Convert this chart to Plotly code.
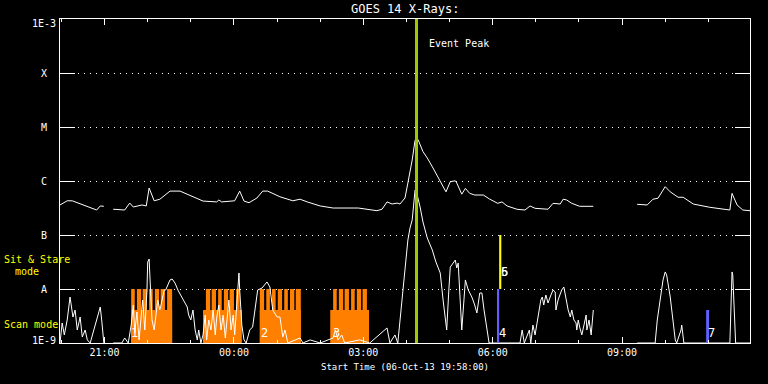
import datetime as dt
import math
import plotly.graph_objects as go

# ---------------- data ----------------
long_times = ["19:58","20:08","20:15","20:26","20:49","20:54","20:59","21:05","21:12","21:28","21:35","21:40",
              "21:52","21:58","22:02","22:09","22:17","22:31","22:45","23:03","23:17","23:36","23:39","23:43",
              "00:01","00:08","00:14","00:21","00:32","00:40","00:47","01:04","01:22","01:32","01:42","02:00",
              "02:18","02:53","03:19","03:26","03:33","03:40","03:47","03:51","03:58","04:02","04:08","04:12",
              "04:16","04:23","04:29","04:37","04:47","04:55","05:01","05:08","05:10","05:17","05:22","05:28",
              "05:35","05:47","05:56","06:07","06:13","06:20","06:34","06:45","06:52","06:59","07:17","07:24",
              "07:34","07:38","07:43","07:50","08:01","08:20","08:50","09:21","09:35","09:43","09:50","10:00",
              "10:07","10:18","10:25","10:39","11:02","11:30","11:33","11:40","11:48","11:58"]
long_flux = [3.6e-7,4.3e-7,4.3e-7,3.75e-7,2.9e-7,3.45e-7,3.4e-7,None,3.0e-7,2.9e-7,3.9e-7,3.3e-7,
             3.6e-7,3.45e-7,7.4e-7,4.3e-7,4.6e-7,6.5e-7,6.5e-7,5.05e-7,4.25e-7,4.1e-7,4.45e-7,4.1e-7,
             4.3e-7,6.5e-7,4.25e-7,3.96e-7,4.85e-7,6.5e-7,6.5e-7,5.1e-7,4.3e-7,4.6e-7,4.1e-7,3.45e-7,
             3.16e-7,3.16e-7,2.82e-7,3.0e-7,4.1e-7,3.75e-7,3.9e-7,3.75e-7,4.85e-7,9.2e-7,2.45e-6,5.7e-6,
             5.9e-6,3.5e-6,2.67e-6,1.74e-6,9.7e-7,6.3e-7,9.7e-7,1.01e-6,9.2e-7,5.7e-7,7.3e-7,5.9e-7,
             5.5e-7,5.5e-7,4.6e-7,3.86e-7,4.1e-7,3.45e-7,2.99e-7,2.9e-7,3.45e-7,3.12e-7,3.0e-7,3.86e-7,
             3.75e-7,4.6e-7,4.45e-7,3.86e-7,3.4e-7,3.4e-7,None,3.7e-7,3.6e-7,4.6e-7,4.8e-7,7.85e-7,
             6.3e-7,5.0e-7,5.0e-7,3.75e-7,3.26e-7,2.9e-7,5.9e-7,3.6e-7,2.9e-7,2.82e-7]

short_times = ["19:58","20:01","20:04","20:08","20:12","20:16","20:19","20:22","20:26","20:29","20:33","20:36",
               "20:40","20:49","20:54","20:56","20:59","21:05","21:12","21:24","21:28","21:33","21:37","21:40",
               "21:42","21:45","21:48","21:51","21:53","21:56","21:59","22:00","22:02","22:03","22:05","22:06",
               "22:09","22:12","22:14","22:17","22:20","22:23","22:25","22:28","22:31","22:34","22:38","22:42",
               "22:46","22:50","22:55","22:57","23:00","23:03","23:06","23:09","23:11","23:14","23:17","23:20",
               "23:22","23:25","23:28","23:31","23:34","23:36","23:39","23:42","23:45","23:48","23:50","23:53",
               "23:56","23:59","00:01","00:04","00:06","00:07","00:08","00:11","00:14","00:17","00:22","00:26",
               "00:33","00:39","00:46","00:50","00:54","01:00","01:04","01:08","01:11","01:15","01:32","01:36",
               "01:46","02:00","02:18","02:21","02:25","02:30","02:34","02:55","03:09","03:33","03:37","03:44",
               "03:48","03:55","03:58","04:02","04:05","04:08","04:12","04:15","04:19","04:23","04:29","04:36",
               "04:41","04:47","04:51","04:54","04:56","04:59","05:01","05:05","05:08","05:10","05:12","05:14",
               "05:17","05:20","05:22","05:26","05:31","05:35","05:38","05:42","05:45","05:48","05:52","05:55",
               "06:38","06:41","06:44","06:48","06:51","06:53","06:56","06:59","07:02","07:04","07:07","07:09",
               "07:11","07:14","07:17","07:21","07:24","07:27","07:28","07:31","07:34","07:36","07:39","07:42",
               "07:45","07:48","07:50","07:53","07:56","07:57","07:59","08:01","08:04","08:07","08:10","08:11",
               "08:14","08:17","08:20","08:50","09:21","09:46","09:49","09:53","09:57","10:00","10:02","10:07",
               "10:09","10:14","10:16","10:22","10:23","10:26","11:30","11:32","11:33","11:34","11:37","11:38",
               "11:58"]
short_flux = [1.0e-9,2.35e-9,1.41e-9,2.67e-9,7.11e-9,3.03e-9,4.08e-9,1.74e-9,3.03e-9,1.29e-9,1.74e-9,1.14e-9,
              1.0e-9,2.67e-9,4.64e-9,2.67e-9,1.0e-9,None,1.0e-9,1.0e-9,1.24e-9,1.0e-9,2.15e-9,5.05e-9,
              1.53e-9,3.75e-9,1.14e-9,2.67e-9,6.26e-9,1.74e-9,9.58e-9,3.16e-8,3.59e-8,1.82e-8,6.26e-9,2.67e-9,
              1.74e-9,4.08e-9,6.26e-9,4.08e-9,6.26e-9,9.58e-9,9.58e-9,1.19e-8,1.47e-8,1.53e-8,1.29e-8,9.58e-9,
              7.74e-9,6.26e-9,4.64e-9,3.30e-9,2.67e-9,4.08e-9,1.74e-9,1.14e-9,1.74e-9,1.0e-9,1.41e-9,3.30e-9,
              1.14e-9,2.67e-9,1.74e-9,4.08e-9,1.41e-9,2.90e-9,5.05e-9,1.74e-9,3.30e-9,1.24e-9,2.67e-9,6.26e-9,
              1.74e-9,3.30e-9,1.41e-9,5.05e-9,1.19e-8,1.98e-8,9.58e-9,2.15e-9,1.14e-9,1.0e-9,1.74e-9,1.98e-9,
              9.58e-9,1.04e-8,1.35e-8,1.09e-8,4.08e-9,3.03e-9,3.03e-9,1.29e-9,1.74e-9,1.0e-9,1.24e-9,1.0e-9,
              1.14e-9,1.0e-9,1.24e-9,1.74e-9,1.14e-9,1.41e-9,1.0e-9,1.14e-9,1.0e-9,1.90e-9,1.0e-9,1.41e-9,
              1.0e-9,8.43e-9,2.25e-8,8.08e-8,1.35e-7,1.90e-7,6.8e-7,5.5e-7,3.30e-7,1.74e-7,8.80e-8,5.27e-8,
              3.16e-8,1.98e-8,6.26e-9,2.67e-9,1.74e-9,9.58e-9,2.55e-8,3.03e-8,3.44e-8,2.45e-8,3.03e-8,9.58e-9,
              1.74e-9,6.26e-9,1.47e-8,9.58e-9,7.11e-9,5.05e-9,3.59e-9,8.43e-9,8.43e-9,4.08e-9,1.74e-9,1.0e-9,
              1.0e-9,1.74e-9,1.0e-9,1.41e-9,1.74e-9,1.0e-9,2.15e-9,1.41e-9,2.67e-9,4.08e-9,6.26e-9,7.11e-9,
              5.05e-9,7.74e-9,5.51e-9,7.74e-9,9.58e-9,8.80e-9,4.08e-9,6.26e-9,7.74e-9,9.58e-9,1.09e-8,6.26e-9,
              4.08e-9,3.03e-9,4.08e-9,2.67e-9,2.35e-9,1.74e-9,2.67e-9,1.98e-9,1.41e-9,2.15e-9,3.30e-9,1.74e-9,
              2.67e-9,1.41e-9,4.08e-9,None,1.0e-9,1.0e-9,2.67e-9,7.11e-9,1.47e-8,2.07e-8,1.82e-8,7.11e-9,
              4.08e-9,1.14e-9,1.0e-9,1.74e-9,2.15e-9,1.0e-9,1.0e-9,6.26e-9,2.07e-8,1.82e-8,1.74e-9,1.0e-9,
              1.0e-9]

# scan-mode blocks (orange): base blocks and teeth
scan_block_start = ["21:37", "23:17", "00:36", "02:14"]
scan_block_end = ["22:34", "00:11", "01:33", "03:08"]
scan_block_top = [4.1e-9, 4.1e-9, 4.1e-9, 4.1e-9]
scan_tooth_start = ["21:37","21:45","21:53","22:02","22:10","22:18","22:27",
                    "23:21","23:29","23:38","23:46","23:54","00:03",
                    "00:36","00:45","00:53","01:01","01:10","01:18","01:26",
                    "02:18","02:26","02:34","02:43","02:51","02:59"]
scan_tooth_end = ["21:42","21:51","21:59","22:07","22:16","22:24","22:34",
                  "23:27","23:35","23:43","23:52","00:00","00:08",
                  "00:42","00:50","00:58","01:07","01:15","01:24","01:33",
                  "02:23","02:32","02:40","02:48","02:57","03:05"]
scan_tooth_top = 1e-8

# observing-mode bars
blue_start = ["06:06", "10:57"]
blue_end = ["06:09", "11:01"]
blue_top = [1e-8, 4.1e-9]
yellow_start = ["06:09"]
yellow_end = ["06:12"]
yellow_low = [1e-8]
yellow_top = [1e-7]

event_numbers = ["1", "2", "3", "4", "5", "6", "7"]
event_num_times = ["21:42", "00:43", "02:22", "06:13", "06:17", "06:17", "11:04"]
event_num_flux = [1.53e-9, 1.53e-9, 1.53e-9, 1.53e-9, 2.07e-8, 2.07e-8, 1.53e-9]

peak_time = "04:14"

ytick_vals = [1e-9, 1e-8, 1e-7, 1e-6, 1e-5, 1e-4, 1e-3]
ytick_text = ["1E-9", "A", "B", "C", "M", "X", "1E-3"]

x_start = "19:58"
x_end = "11:58"


def t(hhmm):
    h, m = map(int, hhmm.split(":"))
    day = 6 if h >= 19 else 7
    return dt.datetime(2013, 10, day, h, m)


def rects(starts, ends, lows, highs):
    xs, ys = [], []
    for s, e, lo, hi in zip(starts, ends, lows, highs):
        xs += [t(s), t(s), t(e), t(e), t(s), None]
        ys += [lo, hi, hi, lo, lo, None]
    return xs, ys


ORANGE = "#ff8000"
BLUE = "#6060ff"
YELLOW = "#ffff00"
GREEN = "#a0c800"
MONO = "DejaVu Sans Mono"

fig = go.Figure()

bx, by = rects(scan_block_start, scan_block_end, [1e-9] * len(scan_block_start), scan_block_top)
fig.add_trace(go.Scatter(x=bx, y=by, mode="lines", fill="toself", fillcolor=ORANGE,
                         line=dict(width=0, color=ORANGE), hoverinfo="skip"))
tx, ty = rects(scan_tooth_start, scan_tooth_end, [1e-9] * len(scan_tooth_start),
               [scan_tooth_top] * len(scan_tooth_start))
fig.add_trace(go.Scatter(x=tx, y=ty, mode="lines", fill="toself", fillcolor=ORANGE,
                         line=dict(width=0, color=ORANGE), hoverinfo="skip"))

fig.add_trace(go.Scatter(x=[t(s) for s in short_times], y=short_flux, mode="lines",
                         line=dict(color="white", width=1), connectgaps=False))
fig.add_trace(go.Scatter(x=[t(s) for s in long_times], y=long_flux, mode="lines",
                         line=dict(color="white", width=1), connectgaps=False))

ux, uy = rects(blue_start, blue_end, [1e-9] * len(blue_start), blue_top)
fig.add_trace(go.Scatter(x=ux, y=uy, mode="lines", fill="toself", fillcolor=BLUE,
                         line=dict(width=0, color=BLUE), hoverinfo="skip"))
yx, yy = rects(yellow_start, yellow_end, yellow_low, yellow_top)
fig.add_trace(go.Scatter(x=yx, y=yy, mode="lines", fill="toself", fillcolor=YELLOW,
                         line=dict(width=0, color=YELLOW), hoverinfo="skip"))

fig.add_trace(go.Scatter(x=[t(peak_time), t(peak_time)], y=[ytick_vals[0], ytick_vals[-1]],
                         mode="lines", line=dict(color=GREEN, width=3)))

annotations = []
for lab, v in zip(ytick_text, ytick_vals):
    ysh = -4 if lab == "1E-3" else (3 if lab == "1E-9" else 0)
    annotations.append(dict(text=lab, xref="paper", x=0, xshift=-16, xanchor="center",
                            yref="y", y=math.log10(v), yanchor="middle", yshift=ysh,
                            showarrow=False, font=dict(family=MONO, size=10, color="white")))
for lab, tt, v in zip(event_numbers, event_num_times, event_num_flux):
    annotations.append(dict(text=lab, xref="x", x=t(tt), yref="y", y=math.log10(v),
                            xanchor="center", yanchor="middle", showarrow=False,
                            font=dict(family=MONO, size=12, color="white")))
annotations += [
    dict(text="GOES 14 X-Rays:", xref="paper", x=0.5, yref="paper", y=1, yshift=10,
         yanchor="middle", xanchor="center", showarrow=False,
         font=dict(family=MONO, size=12, color="white")),
    dict(text="Start Time (06-Oct-13 19:58:00)", xref="paper", x=0.5, yref="paper", y=0,
         yshift=-24, yanchor="middle", xanchor="center", showarrow=False,
         font=dict(family=MONO, size=9, color="white")),
    dict(text="Event Peak", xref="x", x=t(peak_time), xshift=10, xanchor="left",
         yref="paper", y=1, yshift=-24, yanchor="middle", showarrow=False,
         font=dict(family=MONO, size=10, color="white")),
    dict(text="Sit & Stare", xref="paper", x=0, xshift=-58, xanchor="left",
         yref="paper", y=(343 - 259) / 324, yanchor="middle", showarrow=False,
         font=dict(family=MONO, size=10, color=YELLOW)),
    dict(text="mode", xref="paper", x=0, xshift=-47, xanchor="left",
         yref="paper", y=(343 - 271) / 324, yanchor="middle", showarrow=False,
         font=dict(family=MONO, size=10, color=YELLOW)),
    dict(text="Scan mode", xref="paper", x=0, xshift=-58, xanchor="left",
         yref="paper", y=(343 - 324) / 324, yanchor="middle", showarrow=False,
         font=dict(family=MONO, size=10, color=YELLOW)),
]

fig.update_layout(
    width=768, height=384,
    margin=dict(l=60, r=18, t=19, b=41, pad=0),
    paper_bgcolor="black", plot_bgcolor="black",
    showlegend=False,
    annotations=annotations,
    xaxis=dict(type="date", range=[t(x_start), t(x_end)],
               tickformat="%H:%M", dtick=3 * 3600 * 1000, tick0="2013-10-06 00:00",
               ticks="inside", ticklen=6, tickcolor="white", tickwidth=1,
               minor=dict(dtick=3600 * 1000, tick0="2013-10-06 00:00", ticks="inside",
                          ticklen=3, tickcolor="white", showgrid=False),
               showgrid=False, zeroline=False, showline=True, linecolor="white", linewidth=1,
               mirror="ticks", tickfont=dict(family=MONO, size=10, color="white")),
    yaxis=dict(type="log", range=[-9, -3], tickvals=ytick_vals, ticktext=ytick_text,
               showticklabels=False, ticks="inside", ticklen=15, tickcolor="white", tickwidth=1,
               showgrid=True, gridcolor="white", gridwidth=1, griddash="1px,5px",
               zeroline=False, showline=True, linecolor="white", linewidth=1, mirror="ticks"),
)

fig.write_html("out.html", config={"displayModeBar": False},
               post_script="document.body.style.margin='0';document.body.style.background='black';")
